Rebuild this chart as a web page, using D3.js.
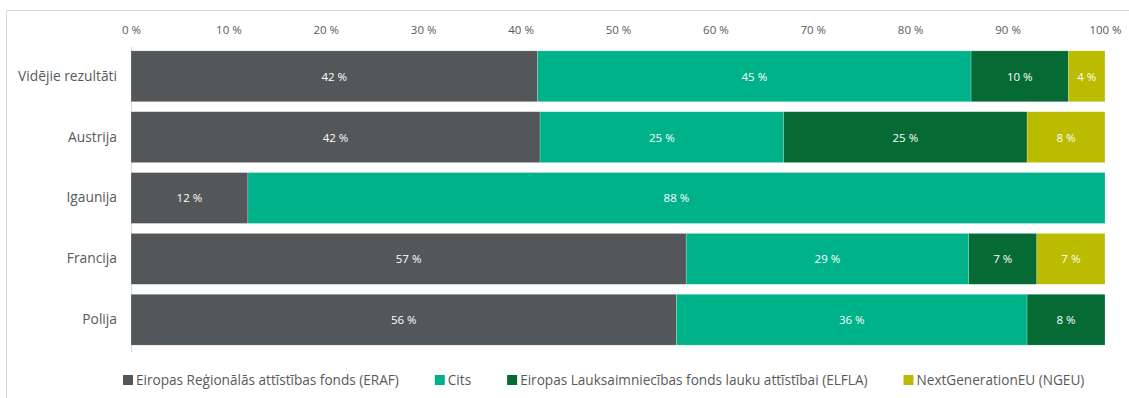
<!DOCTYPE html>
<html>
<head>
<meta charset="utf-8">
<script src="https://cdn.jsdelivr.net/npm/d3@7"></script>
<style>
  html, body { margin: 0; padding: 0; background: #fff; }
  svg { display: block; font-family: "Open Sans", "Noto Sans", sans-serif; }
</style>
</head>
<body>
<svg id="chart" width="1129" height="398"></svg>
<script>
// Funding sources by share, %
const categories = ["Vidējie rezultāti", "Austrija", "Igaunija", "Francija", "Polija"];
const seriesNames = [
  "Eiropas Reģionālās attīstības fonds (ERAF)",
  "Cits",
  "Eiropas Lauksaimniecības fonds lauku attīstībai (ELFLA)",
  "NextGenerationEU (NGEU)"
];
const eraf  = [41.75, 42, 12, 57, 56];
const cits  = [44.5, 25, 88, 29, 36];
const elfla = [10, 25, 0, 7, 8];
const ngeu  = [3.75, 8, 0, 7, 0];
const tickValues = [0, 10, 20, 30, 40, 50, 60, 70, 80, 90, 100];
const colors = ["#54575a", "#00b28a", "#066a35", "#bbbb00"];

const svg = d3.select("#chart");
const W = 1129, H = 398;
const margin = { left: 131, right: 24, top: 46, bottom: 52 };

// chart frame
svg.append("rect")
  .attr("x", 6.5).attr("y", 10.5)
  .attr("width", W).attr("height", H)
  .attr("fill", "none").attr("stroke", "#d9d9d9");

const rows = categories.map((c, i) => ({
  cat: c, v: [eraf[i], cits[i], elfla[i], ngeu[i]]
}));

const stack = d3.stack().keys([0, 1, 2, 3]).value((d, k) => d.v[k]);
const layers = stack(rows);

const x = d3.scaleLinear().domain([0, 100]).range([margin.left, 1105]);
const y = d3.scaleBand().domain(categories)
  .range([margin.top, 350]).paddingInner(0.164).paddingOuter(0.08);

// top axis labels
const xAxis = d3.axisTop(x).tickValues(tickValues)
  .tickFormat(d => d + " %").tickSize(0).tickPadding(0);
const gx = svg.append("g").attr("transform", "translate(0,34)").call(xAxis);
gx.select(".domain").remove();
gx.selectAll("text").attr("fill", "#595959").style("font-size", "11.5px")
  .style("font-family", "\"Open Sans\", sans-serif");

// category labels
const yAxis = d3.axisLeft(y).tickSize(0).tickPadding(14);
const gy = svg.append("g").attr("transform", `translate(${margin.left},0)`).call(yAxis);
gy.select(".domain").remove();
gy.selectAll("text").attr("fill", "#595959").style("font-size", "13.8px")
  .style("font-family", "\"Open Sans\", sans-serif");

// vertical baseline
svg.append("line")
  .attr("x1", x(0) + 0.5).attr("x2", x(0) + 0.5)
  .attr("y1", 47).attr("y2", 352)
  .attr("stroke", "#d9d9d9");

// bars
const fmt = d => Math.round(d) + " %";
const g = svg.append("g");
layers.forEach((layer, k) => {
  const lg = g.append("g").attr("fill", colors[k]);
  lg.selectAll("rect").data(layer.filter(d => d[1] - d[0] > 0)).join("rect")
    .attr("x", d => x(d[0]))
    .attr("y", d => y(d.data.cat))
    .attr("width", d => x(d[1]) - x(d[0]))
    .attr("height", y.bandwidth())
    .attr("stroke", "rgba(255,255,255,0.35)")
    .attr("stroke-width", 0.6);
  lg.selectAll("text").data(layer.filter(d => d[1] - d[0] > 0)).join("text")
    .attr("x", d => (x(d[0]) + x(d[1])) / 2)
    .attr("y", d => y(d.data.cat) + y.bandwidth() / 2)
    .attr("dy", "0.38em")
    .attr("text-anchor", "middle")
    .attr("fill", "#ffffff")
    .style("font-size", "11.5px")
    .text(d => fmt(d[1] - d[0]));
});

// legend
const legend = svg.append("g").attr("transform", "translate(123,380)");
let lx = 0;
seriesNames.forEach((name, k) => {
  const item = legend.append("g").attr("transform", `translate(${lx},0)`);
  item.append("rect").attr("x", 0).attr("y", -5).attr("width", 10).attr("height", 10)
    .attr("fill", colors[k]);
  const t = item.append("text").attr("x", 13).attr("dy", "0.35em")
    .attr("fill", "#595959").style("font-size", "13.6px").text(name);
  lx += 13 + t.node().getComputedTextLength() + 36;
});
</script>
</body>
</html>
